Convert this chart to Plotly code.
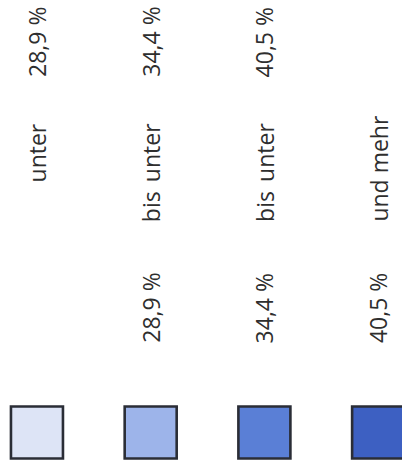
import plotly.graph_objects as go

# ---- data ----
classes = ["K1", "K2", "K3", "K4"]
colors = ["#dde4f6", "#9db4ea", "#5a7fd6", "#3d60c2"]
lower_bound = ["", "28,9 %", "34,4 %", "40,5 %"]
prefix_word = ["", "bis", "bis", "und mehr"]
unter_word = ["unter", "unter", "unter", ""]
upper_bound = ["28,9 %", "34,4 %", "40,5 %", ""]

# ---- layout constants (pixel coordinates, y downward) ----
W, H = 402, 476
SQUARE_Y = 432.5
FONT = dict(family="Open Sans, Noto Sans, sans-serif", size=23, color="#2e2e2e")

fig = go.Figure()
fig.add_trace(go.Scatter(
    x=classes,
    y=[SQUARE_Y] * len(classes),
    mode="markers",
    marker=dict(symbol="square", size=52, color=colors,
                line=dict(color="#2a2d36", width=2.6)),
    hoverinfo="skip",
    showlegend=False,
))

annotations = []
for i, c in enumerate(classes):
    if lower_bound[i]:
        annotations.append(dict(x=c, y=344, text=lower_bound[i], yanchor="bottom"))
    if prefix_word[i]:
        annotations.append(dict(x=c, y=223, text=prefix_word[i], yanchor="bottom"))
    if unter_word[i]:
        annotations.append(dict(x=c, y=122, text=unter_word[i], yanchor="top"))
    if upper_bound[i]:
        annotations.append(dict(x=c, y=78, text=upper_bound[i], yanchor="bottom"))

for a in annotations:
    a.update(xref="x", yref="y", textangle=-90, showarrow=False,
             xanchor="center", font=FONT, borderpad=0)

fig.update_layout(
    width=W, height=H,
    margin=dict(l=0, r=0, t=0, b=0),
    paper_bgcolor="white", plot_bgcolor="white",
    xaxis=dict(type="category", range=[-0.325, 3.21], visible=False, fixedrange=True),
    yaxis=dict(range=[H, 0], visible=False, fixedrange=True),
    annotations=annotations,
)

fig.write_html("out.html", config={"displayModeBar": False},
               post_script="document.body.style.margin='0';")
